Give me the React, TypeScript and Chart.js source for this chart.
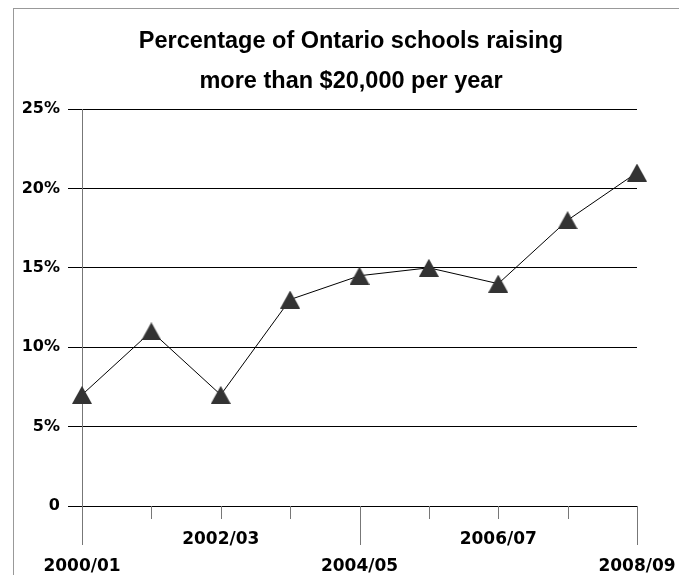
import React, { useEffect, useRef } from "react";
import { Chart, registerables } from "chart.js";

Chart.register(...registerables);

const categories = ["2000/01", "2001/02", "2002/03", "2003/04", "2004/05", "2005/06", "2006/07", "2007/08", "2008/09"];
const percentages = [7, 11, 7, 13, 14.5, 15, 14, 18, 21];
const titleLines = ["Percentage of Ontario schools raising", "more than $20,000 per year"];
const yMin = 0;
const yMax = 25;
const yStep = 5;

const TITLE_FONT = "'Liberation Sans', Arial, sans-serif";
const TICK_FONT = "'DejaVu Sans', sans-serif";

function makeTriangle(): HTMLCanvasElement {
  const w = 20, h = 18;
  const c = document.createElement("canvas");
  c.width = w;
  c.height = h;
  const ctx = c.getContext("2d")!;
  ctx.fillStyle = "#333333";
  ctx.beginPath();
  ctx.moveTo(w / 2, 0);
  ctx.lineTo(w, h);
  ctx.lineTo(0, h);
  ctx.closePath();
  ctx.fill();
  return c;
}

const decorPlugin = {
  id: "decor",
  beforeDraw(chart: any) {
    const { ctx, width, height } = chart;
    ctx.save();
    ctx.fillStyle = "#ffffff";
    ctx.fillRect(0, 0, width, height);
    ctx.strokeStyle = "#999999";
    ctx.lineWidth = 1;
    ctx.strokeRect(5.5, 0.5, width - 6, height + 10);
    ctx.fillStyle = "#000000";
    ctx.font = `bold 23.5px ${TITLE_FONT}`;
    ctx.textAlign = "center";
    ctx.textBaseline = "middle";
    ctx.fillText(titleLines[0], 343, 34);
    ctx.fillText(titleLines[1], 343, 74);
    ctx.restore();
  },
  beforeDatasetsDraw(chart: any) {
    const { ctx, chartArea } = chart;
    const xs = chart.scales.x;
    ctx.save();
    ctx.strokeStyle = "#777777";
    ctx.lineWidth = 1;
    categories.forEach((_, i) => {
      const x = Math.round(xs.getPixelForValue(i)) + 0.5;
      const len = i % 4 === 0 ? 39 : 13;
      ctx.beginPath();
      ctx.moveTo(x, chartArea.bottom);
      ctx.lineTo(x, chartArea.bottom + len);
      ctx.stroke();
    });
    ctx.restore();
  },
};

export default function App() {
  const ref = useRef<HTMLCanvasElement>(null);
  useEffect(() => {
    if (!ref.current) return;
    const tri = makeTriangle();
    const chart = new Chart(ref.current, {
      type: "line",
      data: {
        labels: categories,
        datasets: [
          {
            data: percentages,
            borderColor: "#000000",
            borderWidth: 1,
            pointStyle: tri as any,
            pointRadius: 10,
            pointBackgroundColor: "#333333",
            fill: false,
            tension: 0,
          },
        ],
      },
      options: {
        animation: false,
        responsive: false,
        layout: { padding: { top: 101, right: 43, left: 0, bottom: 0 } },
        plugins: { legend: { display: false }, title: { display: false }, tooltip: { enabled: false } },
        scales: {
          x: {
            offset: false,
            grid: { display: false, drawTicks: false },
            border: { display: false },
            ticks: {
              autoSkip: false,
              maxRotation: 0,
              minRotation: 0,
              padding: 20,
              color: "#000000",
              font: { family: TICK_FONT, size: 17, weight: "bold", lineHeight: 1.6 },
              callback: (_v: any, i: number) =>
                i % 4 === 0 ? ["", categories[i]] : i % 2 === 0 ? categories[i] : "",
            },
            afterFit: (s: any) => {
              s.height = 69;
              s.paddingLeft = 0;
              s.paddingRight = 0;
            },
          },
          y: {
            min: yMin,
            max: yMax,
            grid: { color: "#000000", lineWidth: 1, tickLength: 14, drawTicks: true, tickColor: "#000000" },
            border: { display: true, color: "#777777", width: 1 },
            ticks: {
              stepSize: yStep,
              padding: 8,
              color: "#000000",
              font: { family: TICK_FONT, size: 16, weight: "bold" },
              callback: (v: any) => (v === 0 ? "0" : `${v}%`),
            },
            afterFit: (s: any) => {
              s.width = 74;
              s.paddingTop = 0;
              s.paddingBottom = 0;
            },
          },
        },
      },
      plugins: [decorPlugin],
    });
    return () => chart.destroy();
  }, []);
  return <canvas ref={ref} width={672} height={567} style={{ display: "block" }} />;
}
